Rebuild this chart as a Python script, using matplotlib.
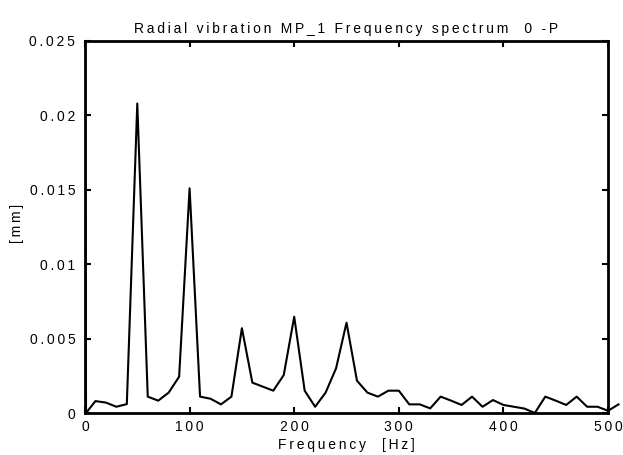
import matplotlib
matplotlib.use('Agg')
import matplotlib.pyplot as plt
from matplotlib.patches import Rectangle

# spectrum: 10 Hz bins, DC spike at the start
freq = [0, 1] + list(range(10, 520, 10))
amp = [0.03, 0.0,
       0.0008, 0.0007, 0.00042, 0.0006, 0.0208, 0.0011, 0.00083, 0.00137, 0.00244,
       0.0151, 0.0011, 0.00096, 0.00058, 0.0011, 0.0057, 0.00204, 0.00177, 0.0015, 0.00255,
       0.00647, 0.0015, 0.00042, 0.00137, 0.0030, 0.00607, 0.00217, 0.00137, 0.0011, 0.0015,
       0.0015, 0.00058, 0.00058, 0.00031, 0.0011, 0.00083, 0.00054, 0.0011, 0.00042, 0.00087,
       0.00054, 0.00042, 0.0003, 0.0, 0.0011, 0.00083, 0.00054, 0.0011, 0.00042, 0.00042,
       0.00015, 0.00058]

xticks = [0, 100, 200, 300, 400, 500]
yticks = [0, 0.005, 0.01, 0.015, 0.02, 0.025]
ytick_labels = ['0', '0.005', '0.01', '0.015', '0.02', '0.025']


def spaced(s):
    # old matlab export has wide letter spacing
    return '\u2009'.join(s)


plt.rcParams['font.family'] = ['Liberation Sans', 'DejaVu Sans']

fig = plt.figure(figsize=(6.23, 4.55), dpi=100)
ax = fig.add_axes([0.1364, 0.0923, 0.8396, 0.8176])

line, = ax.plot(freq, amp, color='black', lw=1.5)
# clip at the top of the frame, but let the tail run a bit past 500 Hz
clip = Rectangle((0, -0.1), 1.2, 1.1, transform=ax.transAxes)
line.set_clip_path(clip)

ax.set_xlim(0, 500)
ax.set_ylim(0, 0.025)
ax.set_xticks(xticks)
ax.set_xticklabels([spaced(str(t)) for t in xticks])
ax.set_yticks(yticks)
ax.set_yticklabels([spaced(t) for t in ytick_labels])

for s in ax.spines.values():
    s.set_linewidth(2)
ax.tick_params(direction='in', length=4, width=1.5, top=True, right=True,
               labelsize=10)
ax.tick_params(axis='x', pad=5)
ax.tick_params(axis='y', pad=7)

ax.set_title(spaced('Radial vibration MP_1 Frequency spectrum  0 -P'), fontsize=10, pad=6)
ax.set_xlabel(spaced('Frequency  [Hz]'), fontsize=10, labelpad=3)
ax.set_ylabel(spaced('[mm]'), fontsize=10)
ax.yaxis.set_label_coords(-0.117, 0.51)

fig.savefig('out.png', dpi=100)
